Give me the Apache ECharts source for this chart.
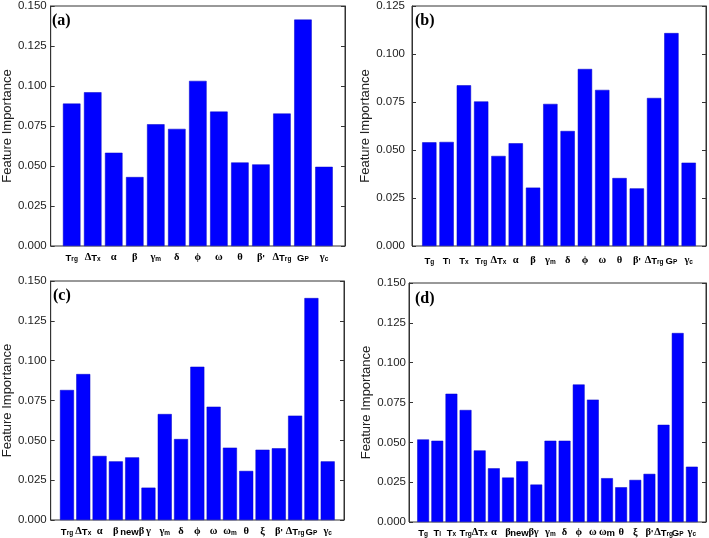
<!DOCTYPE html>
<html>
<head>
<meta charset="utf-8">
<script src="https://cdn.jsdelivr.net/npm/echarts@6/dist/echarts.min.js"></script>
<style>html,body{margin:0;padding:0;background:#fff;}#c{width:709px;height:538px;}</style>
</head>
<body>
<div id="c"></div>
<script>
// ---- data ----
const catsA = ['T_rg','ΔT_x','α','β','γ_m','δ','ϕ','ω','θ',"β'",'ΔT_rg','G_P','γ_c'];
const valsA = [0.0890,0.0961,0.0583,0.0431,0.0761,0.0732,0.1032,0.0840,0.0522,0.0510,0.0828,0.1415,0.0495];
const catsB = ['T_g','T_l','T_x','T_rg','ΔT_x','α','β','γ_m','δ','ϕ','ω','θ',"β'",'ΔT_rg','G_P','γ_c'];
const valsB = [0.0540,0.0542,0.0837,0.0753,0.0469,0.0535,0.0304,0.0740,0.0599,0.0922,0.0813,0.0354,0.0300,0.0771,0.1109,0.0434];
const catsC = ['T_rg','ΔT_x','α','β','newβ','γ','γ_m','δ','ϕ','ω','ω_m','θ','ξ',"β'",'ΔT_rg','G_P','γ_c'];
const valsC = [0.0816,0.0916,0.0402,0.0368,0.0393,0.0203,0.0665,0.0508,0.0962,0.0711,0.0454,0.0308,0.0441,0.0450,0.0655,0.1393,0.0368];
const catsD = ['T_g','T_l','T_x','T_rg','ΔT_x','α','β','newβ','γ','γ_m','δ','ϕ','ω','ωm','θ','ξ',"β'",'ΔT_rg','G_P','γ_c'];
const valsD = [0.0518,0.0510,0.0805,0.0703,0.0449,0.0337,0.0279,0.0381,0.0235,0.0510,0.0510,0.0863,0.0768,0.0275,0.0218,0.0264,0.0302,0.0610,0.1186,0.0347];
const panelTitles = ['(a)','(b)','(c)','(d)'];
const yMaxes = [0.150, 0.125, 0.150, 0.150];
const yStep = 0.025;
const yName = 'Feature Importance';

// ---- layout ----
const grids = [
  {left: 46.5, top: 5.5, width: 298.5, height: 240.5},
  {left: 412, top: 5.5, width: 296, height: 240.5},
  {left: 46.5, top: 281, width: 297.5, height: 239},
  {left: 409, top: 283, width: 299, height: 240}
];
const barWidths = [17.5, 14.3, 14, 11.8];
const labelMargins = [4, 7, 4, 3];
const nameGaps = [20, 30, 28.5, 30];
const titlePos = [[52, 13], [415, 13], [53, 288], [415, 291]];

function isGreek(ch){ const c = ch.charCodeAt(0); return c >= 0x370 && c <= 0x3FF; }
function fmtMain(str){
  let out = '', run = '', runG = null;
  for (const ch of str){
    const g = isGreek(ch);
    if (runG !== null && g !== runG){ out += '{' + (runG ? 'g' : 'b') + '|' + run + '}'; run = ''; }
    run += ch; runG = g;
  }
  if (run) out += '{' + (runG ? 'g' : 'b') + '|' + run + '}';
  return out;
}
function fmtLabel(s){
  const p = s.split('_');
  let out = fmtMain(p[0]);
  if (p.length > 1) out += '{s|' + p[1] + '}';
  return out;
}
const rich = {
  b: {fontFamily: 'Liberation Sans', fontWeight: 'bold', fontSize: 9.5, lineHeight: 14, color: '#000', verticalAlign: 'bottom'},
  g: {fontFamily: 'Liberation Serif', fontWeight: 'bold', fontSize: 10.5, lineHeight: 14, color: '#000', verticalAlign: 'bottom'},
  s: {fontFamily: 'Liberation Sans', fontWeight: 'bold', fontSize: 6.5, lineHeight: 8, color: '#000', verticalAlign: 'bottom'}
};

const cats = [catsA, catsB, catsC, catsD];
const vals = [valsA, valsB, valsC, valsD];

const option = {
  animation: false,
  backgroundColor: '#fff',
  title: panelTitles.map((t, i) => ({
    text: t, left: titlePos[i][0], top: titlePos[i][1], padding: 0,
    textStyle: {fontFamily: 'Liberation Serif', fontWeight: 'bold', fontSize: 16, color: '#000'}
  })),
  grid: grids.map(g => Object.assign({show: true, borderColor: '#333', borderWidth: 1, backgroundColor: 'transparent', containLabel: false}, g)),
  xAxis: cats.map((c, i) => ({
    type: 'value', gridIndex: i, min: 0, max: c.length + 1, interval: 1,
    axisLine: {show: false}, axisTick: {show: false}, splitLine: {show: false},
    axisLabel: {
      margin: labelMargins[i] - 1, hideOverlap: false, showMinLabel: true, showMaxLabel: true,
      formatter: v => { const k = Math.round(v) - 1; return (k >= 0 && k < c.length) ? fmtLabel(c[k]) : ''; },
      rich: rich
    }
  })),
  yAxis: [].concat(
    yMaxes.map((m, i) => ({
      type: 'value', gridIndex: i, min: 0, max: m, interval: yStep, position: 'left',
      name: yName, nameLocation: 'middle', nameGap: nameGaps[i], nameRotate: 90,
      nameTextStyle: {fontFamily: 'Liberation Sans', fontSize: 13, color: '#222'},
      axisLine: {show: true, lineStyle: {color: '#333', width: 1}},
      axisTick: {show: true, inside: true, length: 4, lineStyle: {color: '#333'}},
      splitLine: {show: false},
      axisLabel: {margin: labelMargins[i], fontFamily: 'Liberation Sans', fontSize: 11.5, color: '#222', formatter: v => v.toFixed(3)}
    })),
    yMaxes.map((m, i) => ({
      type: 'value', gridIndex: i, min: 0, max: m, interval: yStep, position: 'right',
      axisLine: {show: true, lineStyle: {color: '#333', width: 1}},
      axisTick: {show: true, inside: true, length: 4, lineStyle: {color: '#333'}},
      splitLine: {show: false}, axisLabel: {show: false}
    }))
  ),
  series: cats.map((c, i) => ({
    type: 'bar', xAxisIndex: i, yAxisIndex: i, barWidth: barWidths[i],
    itemStyle: {color: '#0000ff', borderColor: '#0000c8', borderWidth: 0.5},
    data: c.map((name, k) => [k + 1, vals[i][k]])
  }))
};
const chart = echarts.init(document.getElementById('c'), null, {renderer: 'canvas'});
chart.setOption(option);
</script>
</body>
</html>
